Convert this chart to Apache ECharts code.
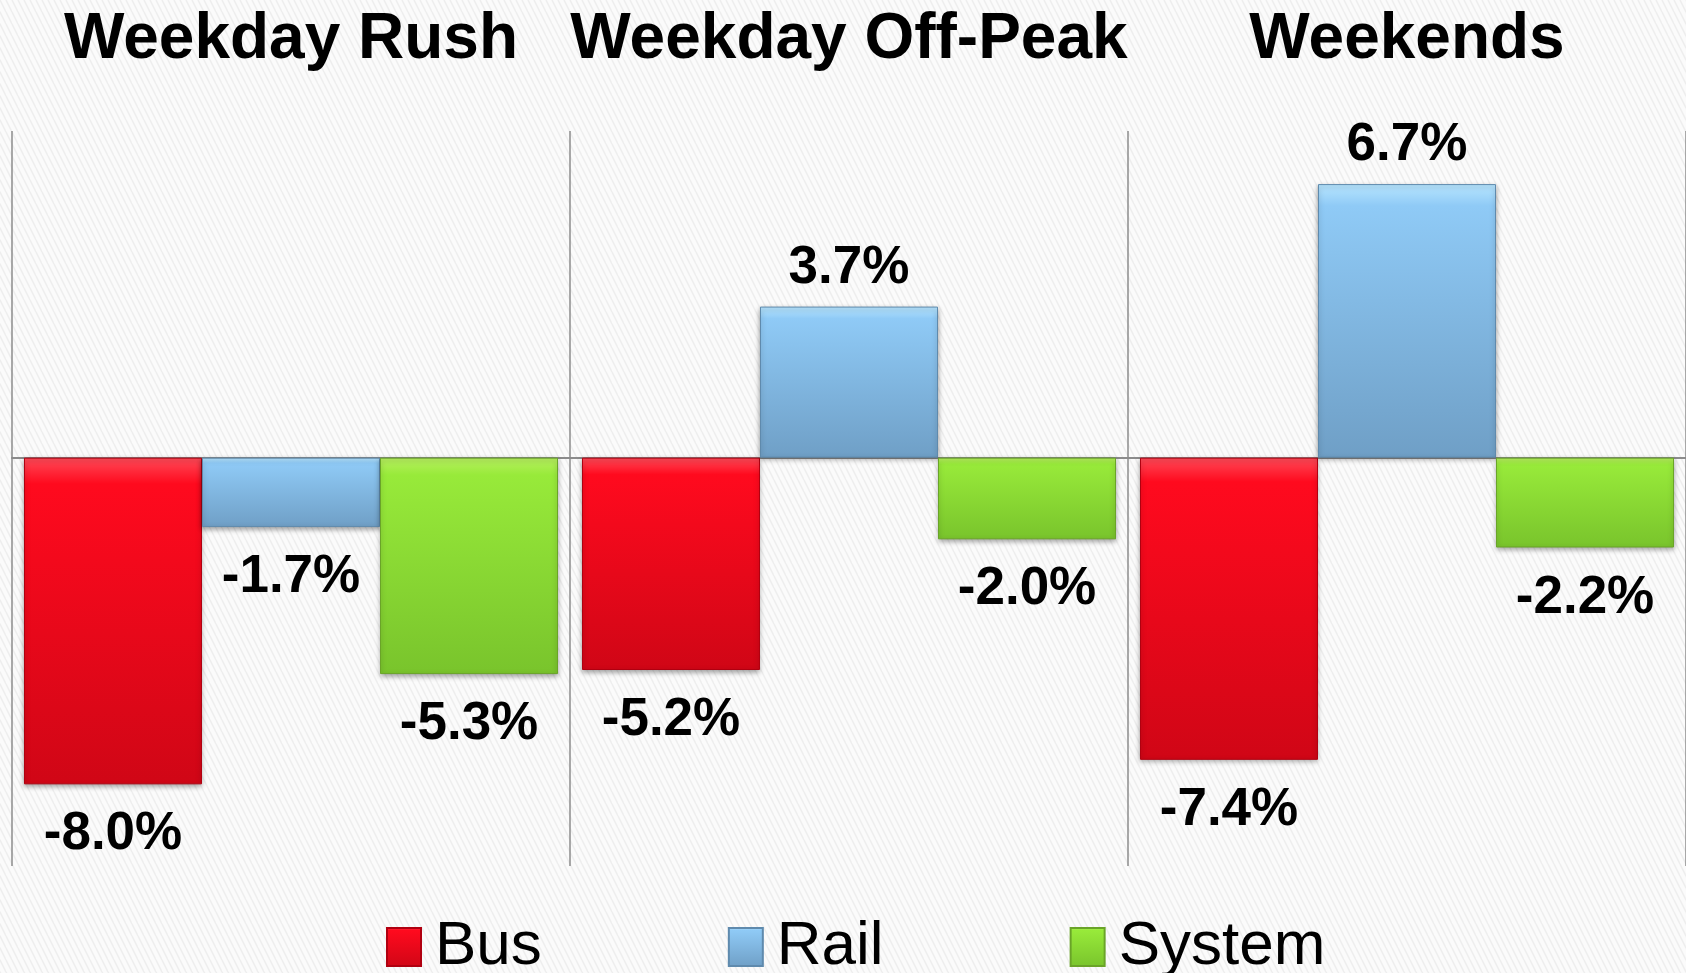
<!DOCTYPE html>
<html>
<head>
<meta charset="utf-8">
<title>Ridership change</title>
<script src="https://cdn.jsdelivr.net/npm/echarts@6/dist/echarts.min.js"></script>
<style>
  html, body { margin: 0; padding: 0; background: #fafafa; }
  #chart { width: 1686px; height: 973px; }
</style>
</head>
<body>
<div id="chart"></div>
<script>
var categories = ['Weekday Rush', 'Weekday Off-Peak', 'Weekends'];
var seriesNames = ['Bus', 'Rail', 'System'];
var busValues = [-8.0, -5.2, -7.4];
var railValues = [-1.7, 3.7, 6.7];
var systemValues = [-5.3, -2.0, -2.2];

// faint diagonal stripes like the slide background
var tile = document.createElement('canvas');
tile.width = 6;
tile.height = 12;
var tc = tile.getContext('2d');
tc.fillStyle = '#fbfbfb';
tc.fillRect(0, 0, 6, 12);
tc.strokeStyle = '#eeeeee';
tc.lineWidth = 1.6;
[-6, 0, 6].forEach(function (dx) {
  tc.beginPath();
  tc.moveTo(dx, 0);
  tc.lineTo(dx + 6, 12);
  tc.stroke();
});

function grad(top, mid, bottom) {
  return new echarts.graphic.LinearGradient(0, 0, 0, 1, [
    { offset: 0, color: top },
    { offset: 0.08, color: mid },
    { offset: 1, color: bottom }
  ]);
}

var barColors = [
  grad('#ff4a58', '#ff0a1e', '#d00616'),
  grad('#b8e6ff', '#8fcaf6', '#6f9fc6'),
  grad('#b8f060', '#98ea3a', '#79c42c')
];
var borderColors = ['#b00010', '#5f8aad', '#6aa428'];

function withLabels(values) {
  return values.map(function (v) {
    return {
      value: v,
      label: { position: v < 0 ? 'bottom' : 'top', distance: v < 0 ? 24 : 12 }
    };
  });
}

var allValues = [busValues, railValues, systemValues];

var series = seriesNames.map(function (name, i) {
  return {
    name: name,
    type: 'bar',
    barGap: '0%',
    barCategoryGap: '4.3%',
    data: withLabels(allValues[i]),
    itemStyle: {
      color: barColors[i],
      borderColor: borderColors[i],
      borderWidth: 1,
      shadowColor: 'rgba(0,0,0,0.35)',
      shadowBlur: 5,
      shadowOffsetY: 2
    },
    label: {
      show: true,
      fontFamily: 'Liberation Sans, Arial, sans-serif',
      fontWeight: 'bold',
      fontSize: 53,
      lineHeight: 53,
      color: '#000',
      formatter: function (p) { return p.value.toFixed(1) + '%'; }
    },
    emphasis: { disabled: true }
  };
});

var chart = echarts.init(document.getElementById('chart'));
chart.setOption({
  animation: false,
  backgroundColor: { image: tile, repeat: 'repeat' },
  grid: { left: 12, right: 0, top: 131, bottom: 107 },
  legend: {
    data: seriesNames,
    left: 381,
    top: 911,
    icon: 'rect',
    itemWidth: 34,
    itemHeight: 38,
    itemGap: 186,
    textStyle: {
      fontFamily: 'Liberation Sans, Arial, sans-serif',
      fontSize: 62,
      lineHeight: 62,
      color: '#000',
      padding: [0, 0, 0, 9]
    }
  },
  xAxis: [
    {
      type: 'category',
      data: categories,
      axisLine: { onZero: true, lineStyle: { color: '#8c8c8c', width: 2 } },
      axisTick: { show: false },
      axisLabel: { show: false },
      splitLine: { show: true, lineStyle: { color: '#8c8c8c', width: 1.5 } }
    },
    {
      type: 'category',
      data: categories,
      position: 'top',
      axisLine: { show: false },
      axisTick: { show: false },
      splitLine: { show: false },
      axisLabel: {
        interval: 0,
        hideOverlap: false,
        margin: 59,
        fontFamily: 'Liberation Sans, Arial, sans-serif',
        fontWeight: 'bold',
        fontSize: 64,
        lineHeight: 64,
        color: '#000'
      }
    }
  ],
  yAxis: {
    type: 'value',
    min: -10,
    max: 8,
    axisLine: { show: false },
    axisTick: { show: false },
    axisLabel: { show: false },
    splitLine: { show: false }
  },
  series: series
});
</script>
</body>
</html>
